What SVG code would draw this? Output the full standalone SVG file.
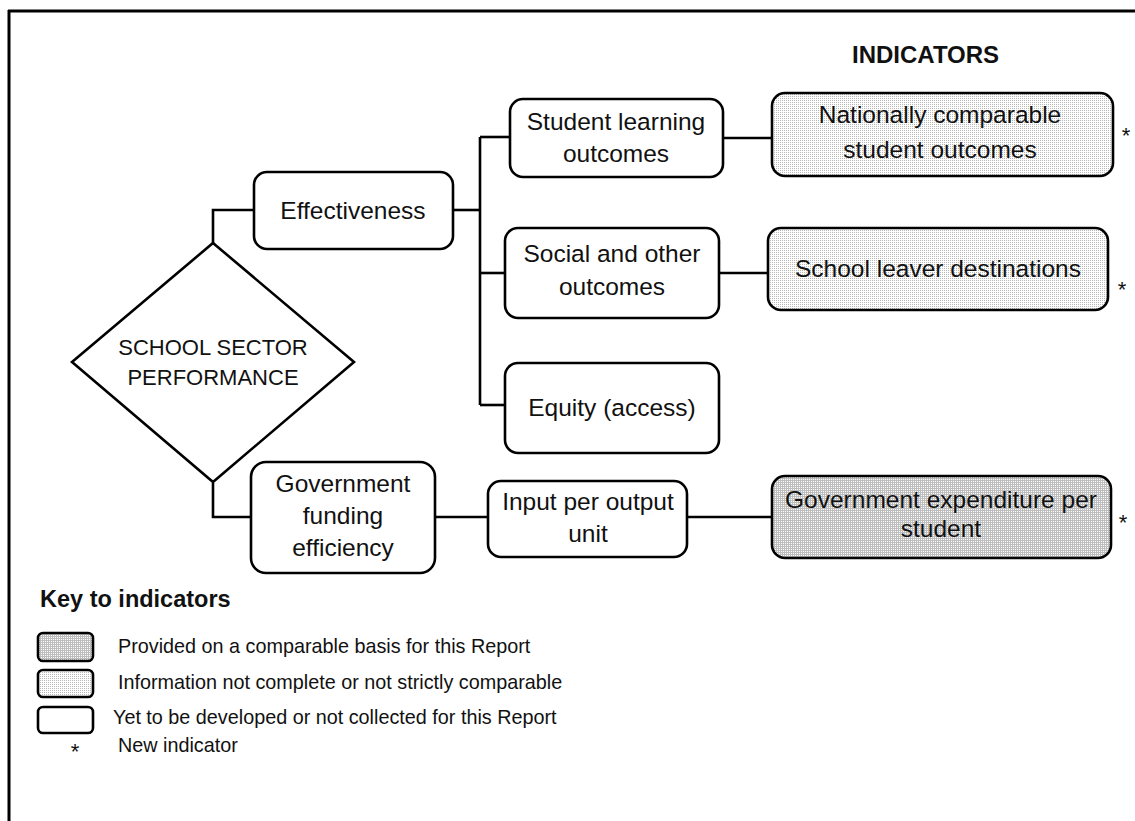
<svg xmlns="http://www.w3.org/2000/svg" width="1135" height="821" viewBox="0 0 1135 821">
<style>
  .box{stroke:#000;stroke-width:2.6;fill:#fff}
  .lt{fill:url(#light)}
  .dk{fill:url(#dark)}
  .conn{stroke:#000;stroke-width:2.6;fill:none}
  .t{font-family:"Liberation Sans",Arial,sans-serif;font-size:24.5px;fill:#111;text-anchor:middle}
  .d{font-family:"Liberation Sans",Arial,sans-serif;font-size:22px;fill:#111;text-anchor:middle}
  .k{font-family:"Liberation Sans",Arial,sans-serif;font-size:19.8px;fill:#111}
  .b{font-family:"Liberation Sans",Arial,sans-serif;font-weight:bold;fill:#111}
  .ast{font-family:"Liberation Sans",Arial,sans-serif;font-size:22px;fill:#111;text-anchor:middle}
</style>
<defs>
  <pattern id="light" width="2" height="2" patternUnits="userSpaceOnUse">
    <rect width="2" height="2" fill="#fff"/>
    <rect width="1" height="1" fill="#b8b8b8"/>
  </pattern>
  <pattern id="dark" width="2" height="2" patternUnits="userSpaceOnUse">
    <rect width="2" height="2" fill="#fff"/>
    <rect width="1" height="2" fill="#bdbdbd"/>
    <rect width="2" height="1" fill="#bdbdbd"/>
  </pattern>
</defs>
<rect width="1135" height="821" fill="#fff"/>
<g id="frame">
  <line x1="8" y1="11" x2="1135" y2="11" stroke="#000" stroke-width="3"/>
  <line x1="9" y1="10" x2="9" y2="821" stroke="#000" stroke-width="3"/>
</g>
<g id="connectors">
  <polyline class="conn" points="213,243 213,210 254,210"/>
  <polyline class="conn" points="213,483 213,517 251,517"/>
  <line class="conn" x1="453" y1="210" x2="480" y2="210"/>
  <line class="conn" x1="480" y1="137" x2="480" y2="405"/>
  <line class="conn" x1="480" y1="137" x2="510" y2="137"/>
  <line class="conn" x1="480" y1="273" x2="505" y2="273"/>
  <line class="conn" x1="480" y1="405" x2="505" y2="405"/>
  <line class="conn" x1="723" y1="138" x2="772" y2="138"/>
  <line class="conn" x1="719" y1="273" x2="768" y2="273"/>
  <line class="conn" x1="435" y1="517" x2="488" y2="517"/>
  <line class="conn" x1="687" y1="517" x2="772" y2="517"/>
</g>
<g id="title"><text class="b" x="852" y="63" font-size="24">INDICATORS</text></g>
<g id="school-sector">
  <polygon class="box" points="213,243 354,362 213,482 72,362"/>
  <text class="d" x="213" y="355">SCHOOL SECTOR</text>
  <text class="d" x="213" y="385">PERFORMANCE</text>
</g>
<g id="effectiveness">
  <rect class="box" x="254" y="172" width="199" height="77" rx="13"/>
  <text class="t" x="353" y="219">Effectiveness</text>
</g>
<g id="student-learning">
  <rect class="box" x="510" y="99" width="213" height="78" rx="13"/>
  <text class="t" x="616" y="130">Student learning</text>
  <text class="t" x="616" y="162">outcomes</text>
</g>
<g id="social">
  <rect class="box" x="505" y="228" width="214" height="90" rx="13"/>
  <text class="t" x="612" y="262">Social and other</text>
  <text class="t" x="612" y="295">outcomes</text>
</g>
<g id="equity">
  <rect class="box" x="505" y="363" width="214" height="90" rx="13"/>
  <text class="t" x="612" y="416">Equity (access)</text>
</g>
<g id="gov-funding">
  <rect class="box" x="251" y="462" width="184" height="111" rx="15"/>
  <text class="t" x="343" y="492">Government</text>
  <text class="t" x="343" y="524">funding</text>
  <text class="t" x="343" y="556">efficiency</text>
</g>
<g id="input-per-output">
  <rect class="box" x="488" y="481" width="199" height="76" rx="13"/>
  <text class="t" x="588" y="510">Input per output</text>
  <text class="t" x="588" y="542">unit</text>
</g>
<g id="nationally">
  <rect class="box lt" x="772" y="93" width="341" height="83" rx="13"/>
  <text class="t" x="940" y="123">Nationally comparable</text>
  <text class="t" x="940" y="158">student outcomes</text>
  <text class="ast" x="1126" y="143">*</text>
</g>
<g id="school-leaver">
  <rect class="box lt" x="768" y="228" width="340" height="82" rx="13"/>
  <text class="t" x="938" y="277">School leaver destinations</text>
  <text class="ast" x="1122" y="297">*</text>
</g>
<g id="gov-expenditure">
  <rect class="box dk" x="772" y="476" width="339" height="82" rx="13"/>
  <text class="t" x="941" y="508">Government expenditure per</text>
  <text class="t" x="941" y="537">student</text>
  <text class="ast" x="1123" y="530">*</text>
</g>
<g id="key">
  <text class="b" x="40" y="607" font-size="23.5">Key to indicators</text>
  <rect class="box dk" x="38" y="633" width="55" height="28" rx="5"/>
  <text class="k" x="118" y="653">Provided on a comparable basis for this Report</text>
  <rect class="box lt" x="38" y="670" width="55" height="27" rx="5"/>
  <text class="k" x="118" y="689">Information not complete or not strictly comparable</text>
  <rect class="box" x="38" y="707" width="55" height="26" rx="5"/>
  <text class="k" x="113" y="724">Yet to be developed or not collected for this Report</text>
  <text class="ast" x="75" y="759">*</text>
  <text class="k" x="118" y="752">New indicator</text>
</g>
</svg>
